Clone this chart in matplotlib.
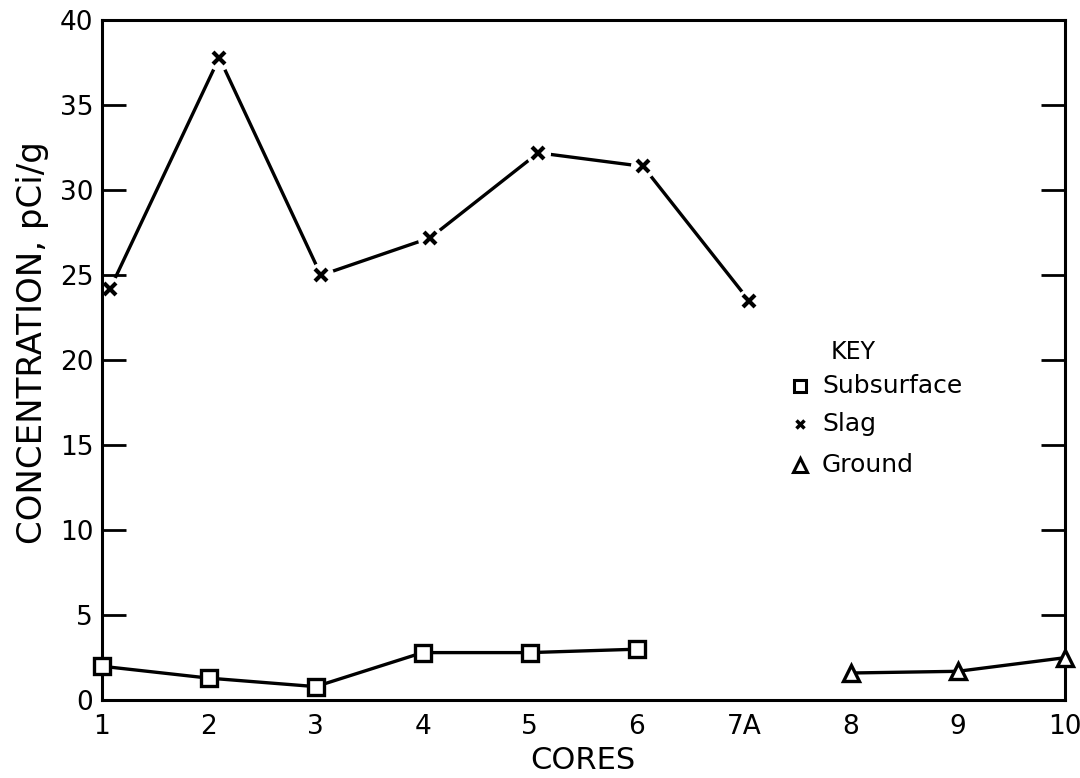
import matplotlib.pyplot as plt
import numpy as np

plt.rcParams['font.family'] = ['DejaVu Sans']

# x labels for cores (7A sits at position 7)
core_pos = [1, 2, 3, 4, 5, 6, 7, 8, 9, 10]
core_labels = ['1', '2', '3', '4', '5', '6', '7A', '8', '9', '10']

# slag (hand plotted slightly right of the core positions)
slag_x = [1.08, 2.1, 3.05, 4.07, 5.08, 6.06, 7.05]
slag_y = [24.2, 37.8, 25.0, 27.2, 32.2, 31.4, 23.5]

sub_x = [1, 2, 3, 4, 5, 6]
sub_y = [2.0, 1.3, 0.8, 2.8, 2.8, 3.0]

ground_x = [8, 9, 10]
ground_y = [1.6, 1.7, 2.5]

W, H = 1080, 778
fig = plt.figure(figsize=(W / 100, H / 100), dpi=100)
ax = fig.add_axes([0.094, 0.1, 0.892, 0.874])

lw = 2.4
# slag line with gaps around the markers
ax.plot(slag_x, slag_y, color='black', lw=lw, zorder=2)
ax.plot(slag_x, slag_y, ls='none', marker='o', ms=17, mfc='white', mec='white', zorder=2.1, clip_on=False)
ax.plot(slag_x, slag_y, ls='none', marker='x', ms=8, mew=3, color='black', zorder=4, clip_on=False)

ax.plot(sub_x, sub_y, color='black', lw=lw, marker='s', ms=11, mfc='white', mec='black', mew=2.4,
        zorder=4, clip_on=False)
ax.plot(ground_x, ground_y, color='black', lw=lw, marker='^', ms=12, mfc='white', mec='black', mew=2.4,
        zorder=4, clip_on=False)

ax.set_xlim(1, 10)
ax.set_ylim(0, 40)
ax.set_xticks(core_pos)
ax.set_xticklabels(core_labels)
ax.set_yticks(np.arange(0, 41, 5))
ax.tick_params(axis='x', length=0, pad=10, labelsize=19)
ax.tick_params(axis='y', direction='in', length=17, width=2, labelsize=19, pad=6,
               right=True, left=True)
for s in ax.spines.values():
    s.set_linewidth(2.2)

ax.set_xlabel('CORES', fontsize=22, labelpad=4)
ax.set_ylabel('CONCENTRATION, pCi/g', fontsize=24.5)
ax.yaxis.set_label_coords(-0.054, 0.526)


def px(x, y):
    # pixel position measured from the top-left corner
    return x / W, 1 - y / H


# key
fig.text(*px(853, 352), 'KEY', fontsize=17, ha='center', va='center')
keyx = 800
for yy, m, ms in [(386, 's', 9), (424, 'x', 6), (465, '^', 10)]:
    fx, fy = px(keyx, yy)
    if m == 'x':
        ax.plot([fx], [fy], transform=fig.transFigure, marker='x', ms=ms, mew=2.5, color='black',
                clip_on=False)
    else:
        ax.plot([fx], [fy], transform=fig.transFigure, marker=m, ms=ms, mfc='white', mec='black',
                mew=2.2, clip_on=False)
for yy, t in zip([386, 424, 465], ['Subsurface', 'Slag', 'Ground']):
    fig.text(*px(822, yy), t, fontsize=18, ha='left', va='center')

fig.savefig('out.png', dpi=100)
